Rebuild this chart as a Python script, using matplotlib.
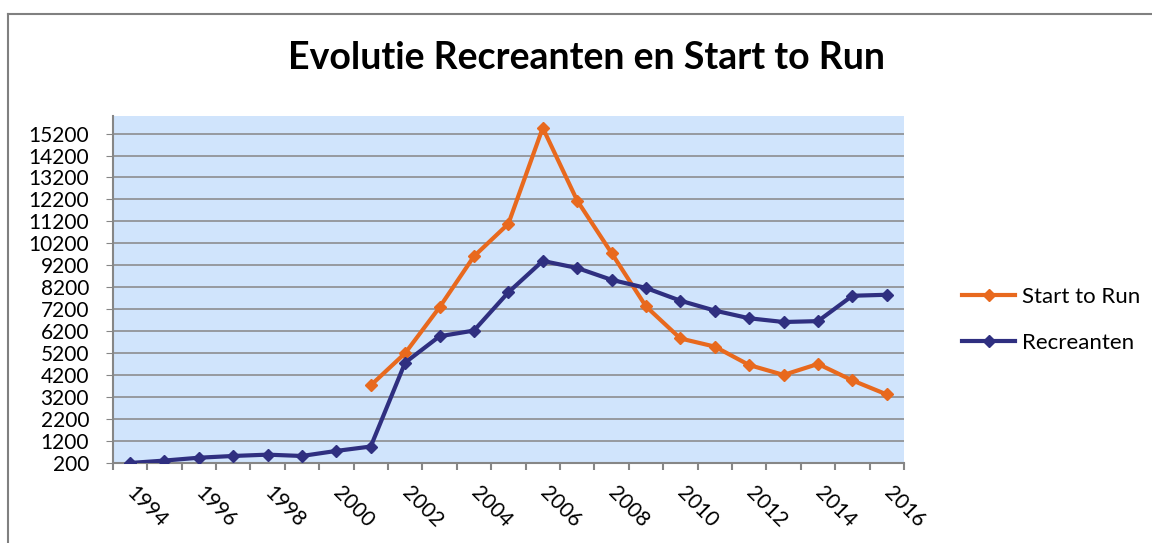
import matplotlib
matplotlib.use("Agg")
import matplotlib.pyplot as plt
import numpy as np

# Daten
years = [str(y) for y in range(1994, 2017)]
recreanten = [200, 310, 440, 520, 580, 520, 750, 950, 4770, 5970, 6230, 7970,
              9400, 9080, 8540, 8170, 7590, 7140, 6790, 6620, 6660, 7815, 7860]
start_to_run = [np.nan] * 7 + [3735, 5200, 7290, 9610, 11090, 15460, 12150,
                               9760, 7330, 5870, 5500, 4660, 4210, 4710, 3960, 3320]
y_ticks = list(range(200, 15201, 1000))

plt.rcParams['font.family'] = ['Lato', 'DejaVu Sans']

fig = plt.figure(figsize=(11.52, 5.43), dpi=100)
ax = fig.add_axes([112.7 / 1152, 1 - 463 / 543, (904 - 112.7) / 1152, (463 - 116) / 543])

x = np.arange(len(years))
ax.set_facecolor('#D0E4FC')
l1, = ax.plot(x, start_to_run, color='#E8691E', lw=3, marker='D', ms=6,
              label='Start to Run', zorder=3)
l2, = ax.plot(x, recreanten, color='#2F2F80', lw=3, marker='D', ms=6,
              label='Recreanten', zorder=3)

ax.set_xlim(-0.5, len(years) - 0.5)
ax.set_ylim(200, 16000)

# Achsen im Excel-Stil
ax.set_yticks(y_ticks)
ax.set_yticklabels([str(v) for v in y_ticks], fontsize=15)
ax.yaxis.grid(True, color='#868686', lw=1.1)
ax.set_axisbelow(True)
ax.tick_params(axis='y', length=5, color='#868686', pad=12)

ax.set_xticks(np.arange(-0.5, len(years), 1))
ax.set_xticklabels([])
ax.tick_params(axis='x', which='major', length=5, color='#868686', width=1.5)
ax.set_xticks(x[::2], minor=True)
ax.set_xticklabels(years[::2], minor=True, fontsize=15, rotation=-45,
                   ha='left', va='center', rotation_mode='anchor')
ax.tick_params(axis='x', which='minor', length=0, pad=19)

for s in ['top', 'right']:
    ax.spines[s].set_visible(False)
for s in ['left', 'bottom']:
    ax.spines[s].set_color('#868686')
    ax.spines[s].set_linewidth(1.5)

fig.text(587 / 1152, 1 - 69 / 543, 'Evolutie Recreanten en Start to Run',
         ha='center', va='baseline', fontsize=27, fontweight='bold')

fig.legend(handles=[l1, l2], loc='center left', frameon=False,
           bbox_to_anchor=(942 / 1152, 1 - 320 / 543), fontsize=16,
           handlelength=2.4, handletextpad=0.3, labelspacing=1.15)

# Rahmen oben und links
fig.add_artist(plt.Line2D([8 / 1152, 1], [1 - 14 / 543, 1 - 14 / 543],
                          transform=fig.transFigure, color='#808080', lw=1.5))
fig.add_artist(plt.Line2D([8 / 1152, 8 / 1152], [0, 1 - 14 / 543],
                          transform=fig.transFigure, color='#808080', lw=1.5))

fig.savefig('out.png', dpi=100)
